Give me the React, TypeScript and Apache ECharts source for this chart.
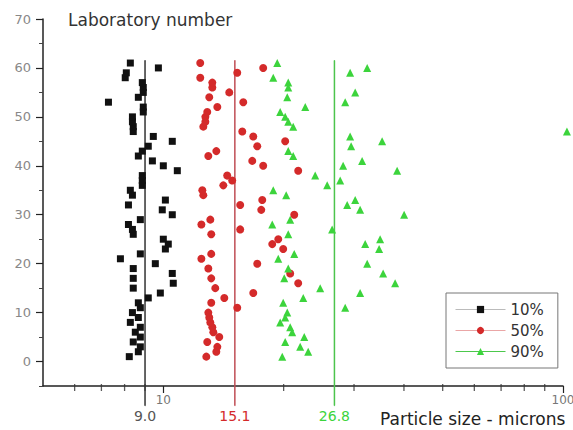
import React, { useEffect, useRef } from 'react';
import * as echarts from 'echarts';

const labNumbers = [
  1, 2, 3, 4, 5, 6, 7, 8, 9, 10, 11, 12, 13, 14, 15, 16, 17, 18, 19, 20,
  21, 22, 23, 24, 25, 26, 27, 28, 29, 30, 31, 32, 33, 34, 35, 36, 37, 38, 39, 40,
  41, 42, 43, 44, 45, 46, 47, 48, 49, 50, 51, 52, 53, 54, 55, 56, 57, 58, 59, 60, 61,
];

const size10 = [
  8.22, 8.66, 8.76, 8.41, 8.76, 8.51, 8.76, 8.27, 8.66, 8.37,
  8.76, 8.66, 9.17, 9.83, 8.41, 10.59, 8.41, 10.53, 8.41, 9.55,
  7.81, 8.76, 10.12, 10.29, 10.0, 8.41, 8.37, 8.18, 8.76, 10.53,
  9.94, 8.18, 10.12, 8.37, 8.27, 8.86, 8.86, 8.86, 10.84, 10.0,
  9.39, 8.66, 8.86, 9.17, 10.53, 9.44, 8.41, 8.41, 8.37, 8.37,
  8.91, 8.91, 7.29, 8.66, 8.91, 8.91, 8.86, 8.03, 8.08, 9.72, 8.27,
];

const size50 = [
  12.81, 13.57, 13.65, 12.88, 13.8, 13.34, 13.26, 13.11, 13.03, 12.96,
  15.31, 13.18, 14.21, 16.79, 13.49, 21.75, 13.18, 20.77, 12.96, 17.18,
  12.45, 13.18, 19.95, 18.73, 19.39, 13.18, 15.57, 12.45, 13.11, 21.26,
  17.58, 15.57, 17.68, 12.59, 12.52, 14.13, 14.87, 14.45, 21.75, 17.78,
  16.69, 12.96, 13.57, 17.18, 20.18, 16.79, 15.76, 12.59, 12.74, 12.74,
  12.88, 13.65, 15.85, 13.03, 14.62, 13.26, 13.26, 12.37, 15.31, 17.78, 12.37,
];

const size90 = [
  19.84, 23.04, 22.0, 20.18, 22.52, 21.01, 20.77, 19.61, 20.18, 20.42,
  28.51, 19.95, 22.39, 31.08, 24.69, 38.02, 20.07, 35.48, 20.54, 32.36,
  19.39, 21.26, 34.67, 31.99, 34.87, 20.54, 26.45, 18.73, 20.77, 40.04,
  31.08, 28.84, 30.2, 20.3, 18.84, 25.7, 27.7, 23.99, 38.46, 28.18,
  31.44, 21.13, 20.54, 29.51, 35.28, 29.34, 102.3, 21.13, 20.54, 20.18,
  19.61, 22.65, 28.51, 20.42, 30.2, 20.54, 20.54, 18.84, 29.34, 32.36, 19.28,
];

const seriesNames = ['10%', '50%', '90%'];
const medianValues = [9.0, 15.1, 26.8];
const medianSpan = [-9, 61.5];
const yMajorTicks = [0, 10, 20, 30, 40, 50, 60, 70];
const xMajorTicks = [10, 100];
const xMinorTicks = [6, 7, 8, 9, 20, 30, 40, 50, 60, 70, 80, 90];
const xAxisBase = -5;

const pointColors = ['#111111', '#d42a2a', '#3cd43c'];
const lineColors = ['#333333', '#bf4d55', '#4cc44c'];
const labelColors = ['#555555', '#d42a2a', '#3cd43c'];
const legendLineColors = ['#bbbbbb', '#eaa6a6', '#4cc84c'];
const symbols = ['rect', 'circle', 'triangle'];
const symbolSizes = [7, 8, 8];

const FONT = 'DejaVu Sans';

export default function App() {
  const ref = useRef<HTMLDivElement>(null);

  useEffect(() => {
    const chart = echarts.init(ref.current as HTMLDivElement, null, { renderer: 'svg' });
    const datasets = [size10, size50, size90];

    const dataSeries = datasets.map((arr, k) => ({
      type: 'line',
      name: seriesNames[k],
      data: arr.map((v, i) => [v, labNumbers[i]]),
      xAxisIndex: 0,
      yAxisIndex: 0,
      symbol: symbols[k],
      symbolSize: symbolSizes[k],
      showSymbol: true,
      showAllSymbol: true,
      itemStyle: { color: pointColors[k] },
      lineStyle: { opacity: 0, width: 0 },
      clip: false,
      z: 4,
      silent: true,
    }));

    const medianSeries = medianValues.map((m, k) => ({
      type: 'line',
      name: 'median' + k,
      data: [
        {
          value: [m, medianSpan[0]],
          label: {
            show: true,
            position: 'bottom',
            distance: 3,
            formatter: m.toFixed(1),
            color: labelColors[k],
            fontFamily: FONT,
            fontSize: 14,
          },
        },
        { value: [m, medianSpan[1]] },
      ],
      xAxisIndex: 0,
      yAxisIndex: 0,
      symbol: 'circle',
      symbolSize: 1,
      showSymbol: true,
      itemStyle: { color: lineColors[k] },
      lineStyle: { color: lineColors[k], width: 1.5 },
      clip: false,
      z: 3,
      silent: true,
    }));

    const minorTickSeries = {
      type: 'scatter',
      name: 'minorTicks',
      data: xMinorTicks.map((v) => [v, xAxisBase]),
      xAxisIndex: 0,
      yAxisIndex: 0,
      symbol: 'rect',
      symbolSize: [1.3, 7],
      symbolOffset: [0, 1.5],
      itemStyle: { color: '#333' },
      clip: false,
      z: 5,
      silent: true,
    };

    const option = {
      animation: false,
      backgroundColor: '#ffffff',
      grid: { left: 43, right: 10, top: 19, bottom: 44, outerBoundsMode: 'none', containLabel: false },
      xAxis: [
        {
          type: 'log',
          logBase: 10,
          min: 5,
          max: 100,
          position: 'bottom',
          axisLine: { show: true, onZero: false, lineStyle: { color: '#222', width: 1.5 } },
          axisTick: { show: true, customValues: xMajorTicks, length: 7, lineStyle: { color: '#222', width: 1.2 } },
          axisLabel: {
            show: true,
            customValues: xMajorTicks,
            margin: 8,
            color: '#777',
            fontFamily: FONT,
            fontSize: 12,
            alignMaxLabel: 'center',
            hideOverlap: false,
          },
          splitLine: { show: false },
          minorTick: { show: false },
        },
      ],
      yAxis: [
        {
          type: 'value',
          min: -5,
          max: 70,
          interval: 5,
          position: 'left',
          axisLine: { show: true, onZero: false, lineStyle: { color: '#222', width: 1.5 } },
          axisTick: { show: true, length: 4, lineStyle: { color: '#444', width: 1 } },
          axisLabel: {
            show: true,
            customValues: yMajorTicks,
            margin: 12,
            color: '#888',
            fontFamily: FONT,
            fontSize: 13,
          },
          splitLine: { show: false },
        },
        {
          type: 'value',
          min: -5,
          max: 70,
          interval: 5,
          position: 'left',
          axisLine: { show: false, onZero: false },
          axisTick: { show: true, customValues: yMajorTicks, length: 7, lineStyle: { color: '#222', width: 1.2 } },
          axisLabel: { show: false },
          splitLine: { show: false },
        },
      ],
      legend: {
        orient: 'vertical',
        left: 446,
        top: 293,
        padding: [9, 14, 9, 9],
        itemWidth: 50,
        itemHeight: 9,
        itemGap: 6,
        borderColor: '#777',
        borderWidth: 1,
        selectedMode: false,
        textStyle: { fontFamily: FONT, fontSize: 15, color: '#333' },
        data: seriesNames.map((n, k) => ({
          name: n,
          lineStyle: { opacity: 1, width: 1, color: legendLineColors[k] },
        })),
      },
      graphic: [
        {
          type: 'text',
          left: 68,
          top: 11,
          style: { text: 'Laboratory number', fontFamily: FONT, fontSize: 17, fill: '#333' },
        },
        {
          type: 'text',
          left: 380,
          top: 410,
          style: { text: 'Particle size - microns', fontFamily: FONT, fontSize: 17, fill: '#222' },
        },
      ],
      series: [...dataSeries, ...medianSeries, minorTickSeries],
    };

    chart.setOption(option as any);
    return () => chart.dispose();
  }, []);

  return (
    <div
      ref={ref}
      style={{ position: 'fixed', left: 0, top: 0, width: 573, height: 430 }}
    />
  );
}
